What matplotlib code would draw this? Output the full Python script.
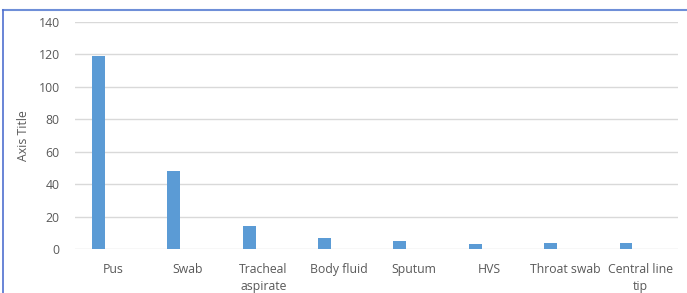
import matplotlib
matplotlib.use("Agg")
import matplotlib.pyplot as plt
from matplotlib.lines import Line2D

categories = ["Pus", "Swab", "Tracheal\naspirate", "Body fluid", "Sputum", "HVS", "Throat swab", "Central line\ntip"]
values = [119, 48, 14, 7, 5, 3, 4, 4]
yticks = [0, 20, 40, 60, 80, 100, 120, 140]

plt.rcParams['font.family'] = ['Open Sans', 'DejaVu Sans']
fig = plt.figure(figsize=(6.87, 2.93), dpi=100)
ax = fig.add_axes([75/687, 1-249/293, 603/687, (249-22)/293])

x = list(range(len(categories)))
ax.bar([i - 0.19 for i in x], values, width=0.17, color="#5b9bd5", zorder=3)
ax.set_xlim(-0.5, len(categories) - 0.5)
ax.set_ylim(0, 140)
ax.set_yticks(yticks)
ax.set_xticks(x)
ax.set_xticklabels(categories, fontsize=8.8, color="#595959", linespacing=1.45)
ax.set_yticklabels([str(t) for t in yticks], fontsize=8.8, color="#595959")
ax.tick_params(axis='x', length=0, pad=10)
ax.tick_params(axis='y', length=0, pad=11)
ax.grid(axis='y', color="#d9d9d9", lw=1, zorder=0)
for s in ax.spines.values():
    s.set_visible(False)
ax.set_ylabel("Axis Title", fontsize=8.8, color="#595959", labelpad=6)

fig.add_artist(Line2D([3/687, 1], [1-10/293, 1-10/293], color="#6f8fd8", lw=1.5, transform=fig.transFigure))
fig.add_artist(Line2D([3/687, 3/687], [0, 1-10/293], color="#4f6fd0", lw=1.2, transform=fig.transFigure))

fig.savefig("out.png", dpi=100)
